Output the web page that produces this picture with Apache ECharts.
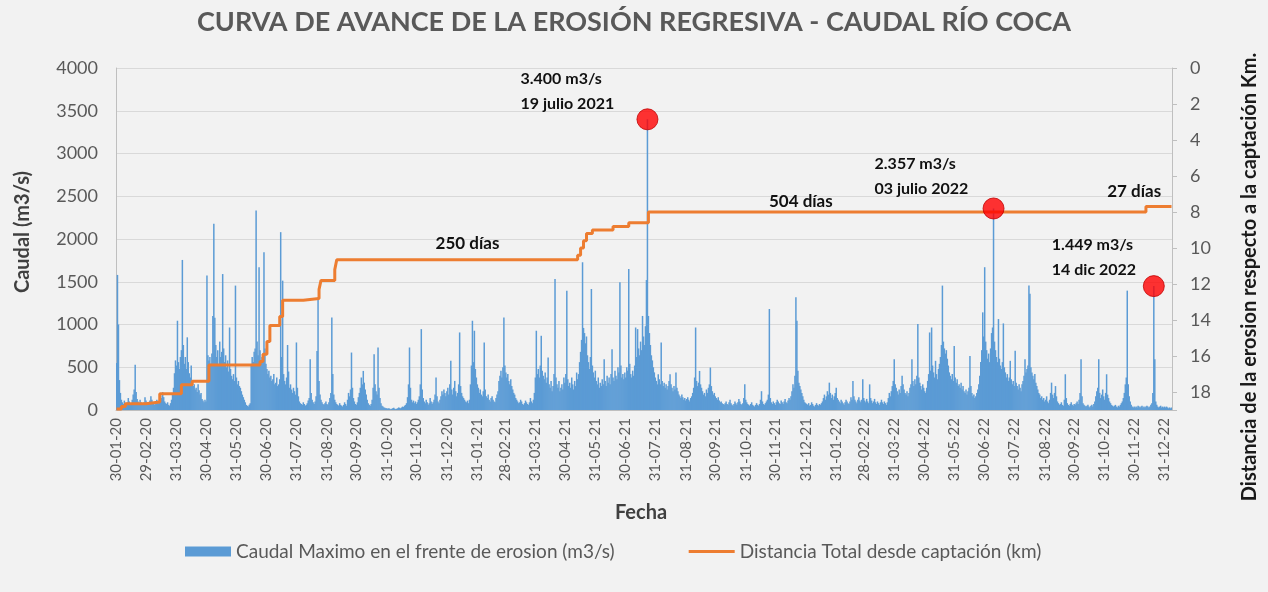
<!DOCTYPE html>
<html>
<head>
<meta charset="utf-8">
<script src="https://cdn.jsdelivr.net/npm/echarts@6/dist/echarts.min.js"></script>
<style>
  html, body { margin: 0; padding: 0; background: #f2f2f2; }
  #chart { width: 1268px; height: 592px; }
</style>
</head>
<body>
<div id="chart"></div>
<script>
// daily max flow (m3/s), one line per month
const caudal2020 = [
  550, 1580,
  1000, 350, 200, 120, 90, 70, 110, 80, 60, 90, 140, 100, 70, 60, 120, 180, 240, 530, 210, 130, 100, 80, 120, 90, 70, 60, 90, 150, 110,
  80, 60, 90, 110, 160, 120, 90, 70, 60, 80, 120, 100, 80, 130, 170, 140, 210, 150, 100, 80, 70, 90, 60, 50, 80, 120, 180, 260, 430, 580, 520,
  1044, 560, 480, 620, 700, 1755, 760, 540, 620, 480, 850, 560, 430, 380, 520, 340, 280, 300, 240, 260, 210, 300, 230, 180, 200, 130, 110, 90, 120, 100,
  1572, 640, 580, 620, 540, 660, 1100, 2178, 1080, 760, 620, 700, 540, 800, 620, 680, 1590, 720, 560, 640, 500, 580, 450, 965, 480, 400, 360, 420, 340, 1455, 380,
  300, 340, 280, 260, 220, 180, 150, 120, 90, 60, 50, 40, 60, 80, 520, 620, 560, 680, 720, 2334, 800, 640, 1670, 700, 580, 620, 660, 1845, 720, 540,
  480, 420, 460, 380, 400, 340, 360, 420, 300, 320, 380, 280, 300, 360, 2080, 620, 1513, 420, 340, 300, 380, 760, 450, 260, 300, 240, 200, 260, 220, 180, 790,
  260, 160, 100, 80, 70, 60, 90, 70, 50, 60, 80, 110, 140, 594, 200, 120, 90, 70, 100, 160, 690, 1318, 340, 180, 120, 90, 70, 60, 80, 100, 70,
  60, 90, 140, 200, 1083, 420, 180, 120, 90, 70, 60, 50, 80, 60, 50, 40, 60, 90, 70, 50, 120, 200, 160, 240, 672, 260, 140, 100, 70, 60,
  90, 150, 200, 260, 380, 300, 457, 320, 240, 180, 120, 80, 60, 50, 70, 120, 260, 653, 300, 220, 180, 731, 260, 140, 80, 50, 40, 30, 25, 20, 20,
  15, 20, 15, 10, 15, 20, 25, 15, 10, 15, 20, 30, 25, 20, 30, 40, 35, 50, 60, 80, 150, 300, 731, 260, 120, 90, 110, 80, 100, 70,
  90, 120, 160, 300, 946, 240, 140, 100, 80, 120, 90, 60, 80, 140, 100, 70, 90, 120, 180, 380, 160, 100, 80, 120, 160, 220, 180, 240, 200, 160, 220
];
const caudal2021 = [
  260, 180, 300, 575, 240, 180, 260, 340, 220, 160, 200, 300, 907, 280, 200, 160, 140, 120, 100, 90, 110, 80, 120, 300, 520, 1044, 560, 927, 480, 380, 300,
  260, 200, 240, 180, 160, 220, 790, 240, 160, 140, 180, 120, 100, 140, 160, 120, 100, 90, 140, 180, 220, 340, 400, 460, 380, 500, 1083, 520,
  440, 380, 420, 340, 300, 360, 280, 240, 200, 180, 140, 120, 100, 80, 90, 120, 100, 70, 60, 80, 110, 90, 70, 60, 90, 140, 100, 80, 120, 200, 380,
  927, 420, 480, 380, 520, 868, 460, 400, 360, 440, 320, 380, 614, 300, 260, 340, 220, 280, 420, 1533, 380, 300, 260, 340, 220, 260, 300, 240, 380, 320,
  420, 1396, 360, 280, 320, 260, 380, 300, 240, 340, 280, 438, 360, 420, 560, 680, 820, 1728, 960, 900, 780, 860, 640, 560, 480, 620, 1415, 520, 440, 380, 460,
  340, 300, 380, 260, 320, 280, 360, 300, 594, 340, 280, 400, 320, 380, 300, 420, 711, 380, 340, 460, 400, 360, 500, 440, 1494, 520, 380, 420, 360, 440,
  380, 500, 460, 1650, 540, 420, 380, 460, 400, 520, 965, 620, 946, 720, 640, 800, 700, 1100, 860, 760, 980, 1520, 3400, 1100, 900, 760, 640, 580, 500, 440, 380,
  340, 300, 418, 360, 300, 790, 340, 280, 320, 260, 300, 240, 280, 340, 418, 300, 260, 220, 280, 240, 438, 260, 220, 180, 160, 140, 180, 150, 120, 140, 110,
  130, 150, 120, 100, 140, 160, 200, 260, 380, 965, 340, 280, 320, 457, 300, 260, 220, 180, 200, 160, 240, 200, 260, 300, 497, 280, 220, 180, 200, 160,
  140, 120, 150, 110, 90, 100, 80, 70, 60, 80, 100, 70, 60, 90, 120, 80, 60, 50, 70, 100, 80, 60, 90, 130, 100, 70, 60, 80, 140, 300, 120,
  90, 70, 60, 50, 70, 90, 60, 50, 40, 60, 80, 60, 50, 70, 120, 220, 100, 70, 60, 80, 100, 120, 180, 1181, 140, 90, 70, 100, 80, 60,
  90, 120, 100, 80, 70, 110, 90, 70, 100, 130, 90, 80, 110, 140, 120, 160, 220, 300, 260, 400, 1318, 1044, 460, 320, 280, 240, 200, 160, 120, 90, 80
];
const caudal2022 = [
  70, 60, 80, 50, 60, 90, 70, 50, 40, 60, 80, 60, 50, 70, 60, 80, 100, 140, 180, 120, 160, 220, 180, 320, 200, 140, 180, 120, 160, 200, 260,
  140, 120, 100, 80, 120, 100, 80, 60, 90, 120, 100, 80, 70, 100, 150, 120, 340, 160, 120, 100, 80, 120, 150, 110, 90, 120, 360, 140,
  110, 90, 130, 100, 80, 300, 140, 110, 80, 100, 130, 90, 70, 100, 80, 60, 90, 120, 90, 70, 100, 80, 60, 90, 140, 200, 160, 220, 280, 340, 594,
  300, 260, 220, 180, 240, 200, 280, 400, 300, 240, 200, 180, 220, 160, 200, 260, 300, 594, 340, 280, 360, 300, 400, 1005, 380, 320, 280, 240, 300, 260,
  220, 200, 260, 340, 420, 907, 460, 965, 520, 440, 380, 575, 420, 360, 480, 540, 620, 760, 1455, 800, 720, 660, 700, 600, 520, 440, 400, 360, 420, 340, 750,
  380, 320, 360, 280, 300, 260, 320, 240, 280, 220, 200, 240, 180, 220, 260, 633, 280, 200, 160, 180, 140, 160, 200, 240, 300, 400, 560, 700, 1142, 860,
  1670, 800, 700, 600, 660, 560, 720, 900, 965, 2357, 800, 700, 620, 560, 1064, 600, 520, 480, 560, 1013, 500, 440, 380, 420, 340, 380, 575, 360, 300, 340, 280,
  692, 320, 280, 240, 300, 260, 220, 300, 340, 400, 594, 440, 480, 520, 1455, 1360, 500, 440, 400, 360, 420, 320, 280, 240, 200, 180, 140, 160, 120, 140, 100,
  120, 160, 100, 80, 120, 200, 320, 180, 140, 200, 280, 160, 100, 80, 60, 70, 90, 60, 50, 120, 418, 140, 80, 60, 50, 70, 90, 60, 50, 70,
  60, 80, 100, 70, 120, 200, 594, 160, 80, 60, 50, 40, 50, 60, 40, 30, 50, 60, 40, 70, 100, 160, 220, 260, 594, 200, 140, 180, 240, 160, 120,
  200, 418, 180, 140, 100, 80, 60, 50, 40, 50, 60, 40, 30, 50, 40, 60, 80, 100, 140, 200, 300, 380, 1396, 300, 160, 100, 60, 40, 30, 40,
  30, 40, 30, 50, 40, 30, 40, 50, 30, 40, 30, 40, 50, 40, 30, 40, 60, 80, 200, 1449, 594, 100, 60, 40, 30, 40, 50, 30, 40, 30, 40
];
const caudal2023 = [30, 40, 30, 20, 30, 20, 30];

// distance of the erosion front (km): day index where it changes, new value
const stepIndex = [0, 5, 9, 30, 44, 66, 77, 94, 146, 149, 153, 156, 166, 169, 190, 206, 208, 222, 224,
  469, 472, 475, 478, 484, 505, 521, 541, 1047, 1073];
const stepKm = [18.95, 18.8, 18.65, 18.55, 18.1, 17.6, 17.4, 16.5, 16.3, 15.9, 15.2, 14.3, 13.8, 12.9, 12.8, 12.3, 11.8, 11.2, 10.65,
  10.4, 10.0, 9.6, 9.2, 9.0, 8.8, 8.6, 8.0, 7.7, 7.7];

// marked peaks
const peakIndex = [540, 892, 1055];
const peakValue = [3400, 2357, 1449];
const peakText = ['3.400 m3/s\n19 julio 2021', '2.357 m3/s\n03 julio 2022', '1.449 m3/s\n14 dic 2022'];

// day-count notes on the distance line
const diasText = ['250 días', '504 días', '27 días'];
const diasIndex = [357, 696, 1035];
const diasKm = [10.65, 8.0, 8.0];

const tickLabels = [
  '30-01-20', '29-02-20', '31-03-20', '30-04-20', '31-05-20', '30-06-20', '31-07-20', '31-08-20', '30-09-20', '31-10-20', '30-11-20', '31-12-20',
  '31-01-21', '28-02-21', '31-03-21', '30-04-21', '31-05-21', '30-06-21', '31-07-21', '31-08-21', '30-09-21', '31-10-21', '30-11-21', '31-12-21',
  '31-01-22', '28-02-22', '31-03-22', '30-04-22', '31-05-22', '30-06-22', '31-07-22', '31-08-22', '30-09-22', '31-10-22', '30-11-22', '31-12-22'
];

const caudal = [].concat(caudal2020, caudal2021, caudal2022, caudal2023);

// one category per day, dd-mm-yy
const categories = [];
const t0 = Date.UTC(2020, 0, 30);
for (let i = 0; i < caudal.length; i++) {
  const d = new Date(t0 + i * 86400000);
  const dd = String(d.getUTCDate()).padStart(2, '0');
  const mm = String(d.getUTCMonth() + 1).padStart(2, '0');
  categories.push(dd + '-' + mm + '-' + String(d.getUTCFullYear()).slice(2));
}
const labelSet = new Set(tickLabels);

const distancia = categories.map(() => null);
stepIndex.forEach((i, k) => { distancia[i] = stepKm[k]; });

const FONT = 'Lato';
const GREY = '#595959';
const INK = '#111111';
const barName = 'Caudal Maximo en el frente de erosion (m3/s)';
const lineName = 'Distancia Total desde captación (km)';

const peakLabelPos = [[-116, -42], [-108, -46], [-91, -43]];
const diasDy = [-16, -10, -20];

const chart = echarts.init(document.getElementById('chart'));
chart.setOption({
  animation: false,
  backgroundColor: '#f2f2f2',
  title: {
    text: 'CURVA DE AVANCE DE LA EROSIÓN REGRESIVA - CAUDAL RÍO COCA',
    left: 'center', top: 4,
    textStyle: { fontFamily: FONT, fontSize: 27, fontWeight: 'bold', color: GREY }
  },
  grid: { left: 116, right: 96, top: 68, bottom: 182 },
  legend: {
    left: 180, top: 537,
    itemWidth: 46, itemHeight: 10, itemGap: 74,
    textStyle: { fontFamily: FONT, fontSize: 19, color: GREY },
    data: [
      { name: barName, icon: 'rect' },
      { name: lineName, icon: 'path://M0,0H46V3H0Z' }
    ]
  },
  xAxis: {
    type: 'category',
    data: categories,
    boundaryGap: true,
    axisLine: { lineStyle: { color: '#BFBFBF' } },
    axisTick: {
      alignWithLabel: true, length: 5,
      interval: (i, v) => labelSet.has(v),
      lineStyle: { color: '#BFBFBF' }
    },
    axisLabel: {
      interval: (i, v) => labelSet.has(v),
      rotate: 90, margin: 8,
      fontFamily: FONT, fontSize: 15, color: GREY
    },
    splitLine: { show: false }
  },
  yAxis: [
    {
      type: 'value', min: 0, max: 4000, interval: 500,
      axisLine: { show: true, lineStyle: { color: '#BFBFBF' } },
      axisTick: { show: false },
      axisLabel: { fontFamily: FONT, fontSize: 18, color: GREY, margin: 18, formatter: v => String(v) },
      splitLine: { lineStyle: { color: '#D9D9D9' } }
    },
    {
      type: 'value', min: 0, max: 19, interval: 2, inverse: true, position: 'right',
      axisLine: { show: true, lineStyle: { color: '#BFBFBF' } },
      axisTick: { show: true, length: 5, lineStyle: { color: '#BFBFBF' } },
      axisLabel: {
        fontFamily: FONT, fontSize: 18, color: GREY, margin: 18,
        formatter: v => (v === 19 ? '' : String(v))
      },
      splitLine: { show: false }
    }
  ],
  graphic: [
    {
      type: 'text', x: 23, y: 232, rotation: Math.PI / 2,
      style: { text: 'Caudal (m3/s)', font: 'bold 20px ' + FONT, fill: '#404040', align: 'center', verticalAlign: 'middle' }
    },
    {
      type: 'text', x: 1250, y: 277, rotation: Math.PI / 2,
      style: { text: 'Distancia de la erosion respecto a la captación Km.', font: 'bold 20px ' + FONT, fill: '#1a1a1a', align: 'center', verticalAlign: 'middle' }
    },
    {
      type: 'text', x: 641, y: 513,
      style: { text: 'Fecha', font: 'bold 20px ' + FONT, fill: '#404040', align: 'center', verticalAlign: 'middle' }
    }
  ],
  series: [
    {
      name: barName,
      type: 'bar',
      data: caudal,
      barWidth: 1.5,
      itemStyle: { color: '#5B9BD5' }
    },
    {
      name: lineName,
      type: 'line',
      yAxisIndex: 1,
      data: distancia,
      connectNulls: true,
      step: 'end',
      symbol: 'none',
      lineStyle: { color: '#ED7D31', width: 3 },
      itemStyle: { color: '#ED7D31' },
      markPoint: {
        symbol: 'circle', symbolSize: 1,
        itemStyle: { color: 'rgba(0,0,0,0)' },
        label: {
          show: true, position: 'inside', formatter: '{b}',
          fontFamily: FONT, fontSize: 17, fontWeight: 'bold', color: INK
        },
        data: diasText.map((t, k) => ({
          name: t,
          coord: [categories[diasIndex[k]], diasKm[k]],
          label: { offset: [0, diasDy[k]] }
        }))
      }
    },
    {
      type: 'scatter',
      data: peakIndex.map((i, k) => ({
        value: [categories[i], peakValue[k]],
        label: {
          show: true, formatter: peakText[k], position: peakLabelPos[k],
          align: 'left', verticalAlign: 'top',
          fontFamily: FONT, fontSize: 16, fontWeight: 'bold', color: INK, lineHeight: 25,
          textBorderWidth: 0, opacity: 1
        }
      })),
      symbolSize: 21,
      itemStyle: { color: '#FF0000', borderColor: '#C00000', borderWidth: 1 },
      z: 5
    }
  ]
});
</script>
</body>
</html>
